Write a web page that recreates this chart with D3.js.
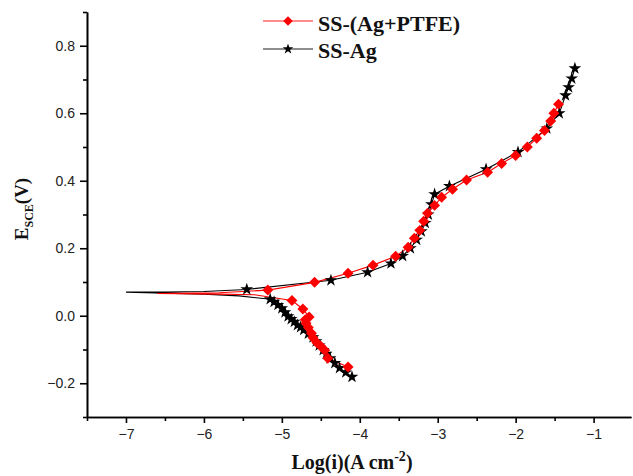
<!DOCTYPE html>
<html><head><meta charset="utf-8">
<script src="https://cdn.jsdelivr.net/npm/d3@7"></script>
<style>body{margin:0;background:#fff}svg{display:block}</style>
</head><body>
<svg id="c" width="633" height="476"></svg>
<script>
// Data: [log(i), E] ordered along the scan (cathodic end -> Ecorr -> anodic end)
const seriesNames = ["SS-(Ag+PTFE)", "SS-Ag"];
const ptfeX = [-4.15,-4.41,-4.45,-4.50,-4.55,-4.60,-4.62,-4.66,-4.69,-4.70,-4.65,-4.73,-4.87,-5.35,-5.8,-6.6,-5.8,-5.18,-4.58,-4.15,-3.83,-3.54,-3.38,-3.30,-3.23,-3.18,-3.13,-3.04,-2.95,-2.81,-2.63,-2.36,-2.18,-2.00,-1.85,-1.73,-1.63,-1.55,-1.51,-1.45];
const ptfeY = [-0.152,-0.126,-0.102,-0.090,-0.080,-0.065,-0.052,-0.035,-0.022,-0.012,-0.004,0.020,0.045,0.062,0.064,0.066,0.068,0.076,0.099,0.126,0.150,0.176,0.203,0.230,0.253,0.280,0.304,0.327,0.351,0.375,0.402,0.425,0.451,0.475,0.500,0.526,0.549,0.577,0.600,0.627];
const agX = [-4.10,-4.18,-4.26,-4.32,-4.38,-4.43,-4.47,-4.52,-4.56,-4.60,-4.66,-4.72,-4.76,-4.80,-4.84,-4.88,-4.92,-4.96,-5.00,-5.05,-5.10,-5.15,-5.55,-6.0,-6.5,-7.0,-6.5,-6.0,-5.45,-4.37,-3.90,-3.60,-3.45,-3.35,-3.27,-3.21,-3.16,-3.12,-3.08,-3.04,-2.85,-2.38,-1.97,-1.60,-1.44,-1.36,-1.32,-1.28,-1.24];
const agY = [-0.181,-0.168,-0.155,-0.140,-0.126,-0.113,-0.102,-0.088,-0.076,-0.064,-0.053,-0.042,-0.034,-0.028,-0.018,-0.010,-0.002,0.010,0.022,0.032,0.041,0.049,0.059,0.064,0.067,0.070,0.070,0.072,0.078,0.105,0.129,0.155,0.177,0.200,0.225,0.250,0.275,0.300,0.330,0.360,0.384,0.434,0.485,0.555,0.600,0.653,0.677,0.703,0.733];
const xTicks = [-7,-6,-5,-4,-3,-2,-1];
const yTicks = [-0.2,0.0,0.2,0.4,0.6,0.8];

const svg = d3.select("#c");
const x = d3.scaleLinear().domain([-7.5,-0.52]).range([87,631]);
const y = d3.scaleLinear().domain([-0.3,0.9]).range([417,12]);

// axes
const xAxis = d3.axisBottom(x).tickValues(xTicks).tickFormat(d3.format("d")).tickSize(6).tickSizeOuter(0).tickPadding(6);
const xMinor = d3.axisBottom(x).tickValues(d3.range(-7.5,-0.5,1)).tickFormat("").tickSize(4).tickSizeOuter(0);
const yAxis = d3.axisLeft(y).tickValues(yTicks).tickFormat(d3.format(".1f")).tickSize(7).tickSizeOuter(0).tickPadding(5);
const yMinor = d3.axisLeft(y).tickValues([-0.3,-0.1,0.1,0.3,0.5,0.7,0.9]).tickFormat("").tickSize(4).tickSizeOuter(0);

function style(g){
  g.selectAll("path,line").attr("stroke","#000").attr("stroke-width",1.6);
  g.selectAll("text").attr("font-family","Liberation Sans, Arial, sans-serif").attr("font-size",14).attr("fill","#222");
}
svg.append("g").attr("transform","translate(0,417)").call(xMinor).call(style);
svg.append("g").attr("transform","translate(0,417)").call(xAxis).call(style);
svg.append("g").attr("transform","translate(87,0)").call(yMinor).call(style);
svg.append("g").attr("transform","translate(87,0)").call(yAxis).call(style);

// axis titles
const xl = svg.append("text").attr("x",352).attr("y",469).attr("text-anchor","middle")
  .attr("font-family","Liberation Serif, Times New Roman, serif").attr("font-weight","bold").attr("font-size",20).attr("fill","#111");
xl.append("tspan").text("Log(i)(A cm");
xl.append("tspan").attr("dy",-8).attr("font-size",14).text("-2");
xl.append("tspan").attr("dy",8).text(")");

const yl = svg.append("text").attr("transform","translate(28,209) rotate(-90)").attr("text-anchor","middle")
  .attr("font-family","Liberation Serif, Times New Roman, serif").attr("font-weight","bold").attr("font-size",19).attr("fill","#111");
yl.append("tspan").text("E");
yl.append("tspan").attr("dy",5).attr("font-size",12).text("SCE");
yl.append("tspan").attr("dy",-5).text("(V)");

const line = d3.line().x(d=>x(d[0])).y(d=>y(d[1]));
const diamond = d3.symbol().type(d3.symbolSquare).size(60);
const star = d3.symbol().type(d3.symbolStar).size(50);

const agPts = agX.map((v,i)=>[v,agY[i]]);
const ptfePts = ptfeX.map((v,i)=>[v,ptfeY[i]]);
const agMarkStart = -5.5, ptfeMarkStart = -5.3;

// SS-Ag (black)
svg.append("path").datum(agPts).attr("d",line).attr("fill","none").attr("stroke","#000").attr("stroke-width",1.1);
// SS-(Ag+PTFE) (red)
svg.append("path").datum(ptfePts).attr("d",line).attr("fill","none").attr("stroke","#ff0000").attr("stroke-width",1.1);

svg.append("g").selectAll("path").data(agPts.filter(d=>d[0]>agMarkStart)).join("path")
  .attr("d",star).attr("transform",d=>`translate(${x(d[0])},${y(d[1])})`).attr("fill","#000");
svg.append("g").selectAll("path").data(ptfePts.filter(d=>d[0]>ptfeMarkStart)).join("path")
  .attr("d",diamond).attr("transform",d=>`translate(${x(d[0])},${y(d[1])}) rotate(45)`).attr("fill","#ff0000");

// legend
const lg = svg.append("g");
const items = [{name:seriesNames[0],color:"#ff0000",sym:d3.symbol().type(d3.symbolSquare).size(45),rot:45,yy:21,ty:31},
               {name:seriesNames[1],color:"#000",sym:d3.symbol().type(d3.symbolStar).size(35),rot:0,yy:49,ty:58}];
items.forEach(it=>{
  lg.append("line").attr("x1",263).attr("x2",313).attr("y1",it.yy).attr("y2",it.yy).attr("stroke",it.color).attr("stroke-width",1.3).attr("stroke-opacity",0.6);
  lg.append("path").attr("d",it.sym).attr("transform",`translate(288,${it.yy}) rotate(${it.rot})`).attr("fill",it.color);
  lg.append("text").attr("x",318).attr("y",it.ty).text(it.name)
    .attr("font-family","Liberation Serif, Times New Roman, serif").attr("font-weight","bold").attr("font-size",22).attr("fill","#111");
});
</script>
</body></html>
